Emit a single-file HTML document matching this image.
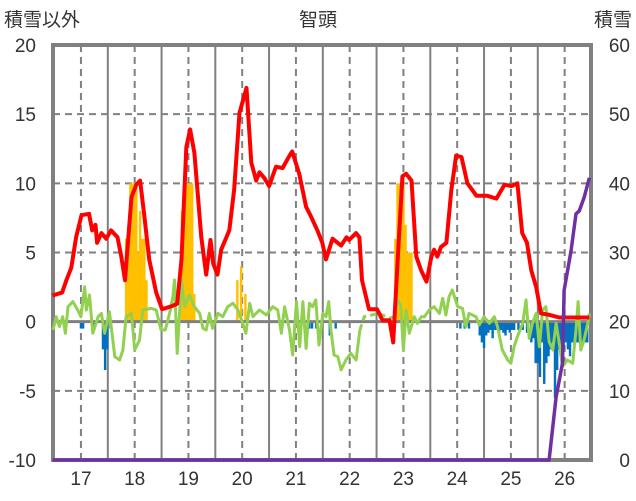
<!DOCTYPE html>
<html><head><meta charset="utf-8"><style>
html,body{margin:0;padding:0;background:#fff;}
svg{display:block;font-family:"Liberation Sans","Noto Sans CJK JP",sans-serif;}
</style></head><body>
<svg id="chart" width="636" height="501" viewBox="0 0 636 501" xmlns="http://www.w3.org/2000/svg">
<text x="4" y="26" font-size="19" fill="#333">積雪以外</text>
<text x="318" y="26" font-size="19" fill="#333" text-anchor="middle">智頭</text>
<text x="632" y="26" font-size="19" fill="#333" text-anchor="end">積雪</text>
<g id="grid"></g>
<g id="marks"></g>
<g id="axes"></g>
</svg>
<script>
const yearTicks=[17,18,19,20,21,22,23,24,25,26];
const leftTicks=[-10,-5,0,5,10,15,20];
const rightTicks=[0,10,20,30,40,50,60];
const redSeries=[[16.47,1.9],[16.65,2.1],[16.73,3.0],[16.82,3.9],[16.91,6.1],[17.01,7.7],[17.15,7.8],[17.21,6.6],[17.27,7.0],[17.30,5.7],[17.38,6.4],[17.47,6.0],[17.56,6.6],[17.68,6.1],[17.75,4.7],[17.82,3.0],[17.94,9.0],[18.03,9.9],[18.10,10.2],[18.18,7.6],[18.27,4.5],[18.40,2.1],[18.51,0.9],[18.68,1.1],[18.79,1.3],[18.87,4.5],[18.96,12.6],[19.03,13.9],[19.11,12.2],[19.24,6.1],[19.33,3.4],[19.41,5.9],[19.46,4.2],[19.54,3.4],[19.61,5.2],[19.76,6.6],[19.85,9.5],[19.95,15.1],[20.08,16.9],[20.17,11.5],[20.26,10.2],[20.32,10.8],[20.41,10.4],[20.50,9.8],[20.63,11.2],[20.75,11.1],[20.88,12.0],[20.93,12.3],[21.06,10.7],[21.19,8.3],[21.28,7.6],[21.40,6.6],[21.49,5.7],[21.56,4.5],[21.68,6.0],[21.84,5.5],[21.94,6.1],[21.99,5.9],[22.12,6.4],[22.18,6.1],[22.23,3.0],[22.36,0.9],[22.51,0.9],[22.61,0.1],[22.74,0.1],[22.81,-1.5],[22.89,4.2],[22.98,10.5],[23.05,10.7],[23.15,10.2],[23.24,4.7],[23.33,3.7],[23.43,2.9],[23.52,4.7],[23.57,5.2],[23.63,4.7],[23.70,5.4],[23.80,5.7],[23.89,9.5],[23.98,12.0],[24.08,11.9],[24.19,10.0],[24.36,9.1],[24.56,9.1],[24.73,8.9],[24.88,9.9],[25.01,9.8],[25.12,10.0],[25.21,6.4],[25.30,5.7],[25.38,3.7],[25.47,2.5],[25.56,0.6],[25.71,0.5],[25.90,0.3],[26.21,0.3],[26.46,0.3]];
const greenSeriesA=[[16.48,-0.6],[16.54,0.36],[16.60,-0.36],[16.66,0.36],[16.71,-0.84],[16.76,1.08],[16.85,1.45],[16.94,0.84],[17.00,0.36],[17.07,2.53],[17.10,0.84],[17.16,1.93],[17.22,-0.84],[17.32,0.36],[17.38,0.6],[17.44,-0.84],[17.53,0.72],[17.63,-2.53],[17.72,-2.77],[17.78,-2.05],[17.84,0.36],[17.94,0.6],[18.00,-2.05],[18.09,-1.33],[18.15,0.84],[18.31,0.96],[18.40,0.84],[18.49,-0.6],[18.57,-0.6],[18.65,0.6],[18.71,1.81],[18.74,3.01],[18.79,-2.29],[18.87,3.01],[18.93,1.08],[19.02,1.93],[19.11,1.08],[19.21,0.6],[19.27,-0.48],[19.33,-0.6],[19.39,0.6],[19.45,-0.48],[19.55,0.6],[19.64,0.36],[19.73,1.08],[19.83,1.33],[19.92,0.84],[20.01,-0.12],[20.07,-0.84],[20.14,1.33],[20.20,0.36],[20.32,0.84],[20.45,0.48],[20.57,1.08],[20.66,0.84],[20.73,-0.84],[20.79,1.08],[20.88,-0.6],[20.94,-2.41],[21.01,1.45],[21.07,-1.81],[21.13,1.45],[21.19,-1.93],[21.25,1.33],[21.31,1.08],[21.37,1.57],[21.43,-1.69],[21.50,0.6],[21.56,0.36],[21.61,1.45],[21.65,-0.6],[21.71,-2.41],[21.78,-2.53],[21.84,-3.49],[21.93,-2.77],[22.02,-2.29],[22.12,-2.77],[22.19,-0.6]];
const greenSeriesB=[[22.74,0.24],[22.83,0.36],[22.89,1.57],[22.95,1.2],[23.00,-2.05],[23.05,0.84],[23.11,-0.84],[23.20,0.36],[23.26,-0.12],[23.33,0.36],[23.39,0.36],[23.48,0.84],[23.57,1.08],[23.67,0.6],[23.73,1.69],[23.79,0.48],[23.85,1.81],[23.91,2.29],[24.01,1.08],[24.10,0.96],[24.16,-0.36],[24.22,0.6],[24.35,0.36],[24.41,-0.24],[24.50,0.36],[24.60,-0.12],[24.69,0.36],[24.75,-0.36],[24.84,-2.05],[24.94,-2.77],[25.00,-3.01],[25.06,-1.81],[25.12,-1.08],[25.22,-0.12],[25.28,1.57],[25.34,-1.2],[25.40,-0.12],[25.47,0.6],[25.53,-1.81],[25.59,0.84],[25.65,1.08],[25.71,-1.45],[25.78,-2.05],[25.84,-0.12],[25.90,-1.57],[25.96,-3.25],[26.05,-2.77],[26.15,-3.01],[26.21,-0.6],[26.25,1.45],[26.30,-2.05],[26.36,-1.33],[26.43,-0.12],[26.46,0.6]];
const greenGap=[[22.19,-0.6],[22.27,0.36],[22.55,0.6],[22.74,0.24]];
const purpleSeries=[[16.47,0],[25.71,0],[25.84,9.1],[25.96,14],[25.99,24.5],[26.12,30.3],[26.21,35.6],[26.27,36],[26.36,37.9],[26.46,40.8]];
const orangeBars=[[17.84,6],[17.88,6],[17.92,10],[17.96,10],[17.99,10],[18.03,10],[18.07,5],[18.10,8],[18.14,6],[18.18,6],[18.22,3],[18.88,8],[18.92,8],[18.96,10],[18.99,10],[19.03,10],[19.07,10],[19.11,2],[19.91,3],[19.98,4],[20.06,2],[22.85,6],[22.89,10],[22.92,10],[22.96,10],[23.00,10],[23.04,7],[23.08,5],[23.11,5],[23.15,5]];
const blueBars=[[17.00,-0.5],[17.04,-0.5],[17.25,-0.5],[17.41,-2],[17.45,-3.5],[17.49,-2],[17.55,-0.5],[21.25,-0.5],[21.30,-0.5],[21.38,-0.5],[21.63,-1.0],[21.74,-0.5],[24.06,-0.5],[24.14,-0.5],[24.22,-0.5],[24.42,-1.0],[24.46,-1.5],[24.50,-1.9],[24.54,-1.0],[24.58,-0.8],[24.62,-0.6],[24.66,-1.2],[24.70,-0.6],[24.74,-0.6],[24.78,-0.8],[24.82,-0.6],[24.86,-0.8],[24.90,-1.0],[24.94,-0.6],[24.98,-0.8],[25.02,-0.6],[25.06,-0.6],[25.14,-0.6],[25.22,-0.6],[25.30,-0.8],[25.38,-1.5],[25.42,-1.2],[25.46,-3.0],[25.50,-3.0],[25.54,-4.0],[25.58,-1.5],[25.62,-4.5],[25.66,-3.0],[25.70,-2.5],[25.74,-2.0],[25.78,-1.5],[25.82,-5.5],[25.86,-3.5],[25.90,-2.0],[25.94,-2.5],[25.98,-2.0],[26.02,-1.5],[26.06,-2.0],[26.10,-2.5],[26.14,-1.5],[26.18,-2.0],[26.22,-1.5],[26.26,-1.5],[26.30,-1.5],[26.34,-1.5],[26.38,-1.5],[26.42,-1.5]];

const PL=53,PR=591,PT=45,PB=460;
const T0=16.48,T1=26.49;
function xs(t){return PL+(t-T0)/(T1-T0)*(PR-PL);}
function yl(v){return PB-(v+10)/30*(PB-PT);}
function yr(v){return PB-v/60*(PB-PT);}
const NS="http://www.w3.org/2000/svg";
function mk(tag,parent,attrs){const e=document.createElementNS(NS,tag);for(const k in attrs)e.setAttribute(k,attrs[k]);parent.appendChild(e);return e;}
const grid=document.getElementById('grid'),marks=document.getElementById('marks'),axes=document.getElementById('axes');
leftTicks.forEach(v=>{if(v===-10||v===20||v===0)return;
 const l=mk('line',grid,{x1:PL,x2:PR,y1:yl(v),y2:yl(v),stroke:'#808080','stroke-width':2,'stroke-dasharray':'7,5'});
 
 });
yearTicks.forEach(y=>{
 const d=mk('line',grid,{x1:xs(y),x2:xs(y),y1:PT,y2:PB,stroke:'#808080','stroke-width':2,'stroke-dasharray':'7,5'});
 
 
 const s=mk('line',grid,{x1:xs(y+0.5),x2:xs(y+0.5),y1:PT,y2:PB,stroke:'#808080','stroke-width':2});
 
 });
const fr=mk('rect',grid,{x:PL,y:PT,width:PR-PL,height:PB-PT,fill:'none',stroke:'#808080','stroke-width':4});


const bw=xs(0.045)-xs(0);
orangeBars.forEach(([t,v])=>{const r=mk('rect',marks,{x:xs(t)-bw/2,y:yl(v),width:bw,height:yl(0)-yl(v),fill:'#ffc000'});
 
 });
blueBars.forEach(([t,v])=>{const r=mk('rect',marks,{x:xs(t)-bw/2,y:yl(0),width:bw,height:yl(v)-yl(0),fill:'#0070c0'});
 
 });
const z=mk('line',marks,{x1:PL,x2:PR,y1:yl(0),y2:yl(0),stroke:'#808080','stroke-width':3});


function pts(arr,f){return arr.map(([t,v])=>xs(t).toFixed(1)+','+f(v).toFixed(1)).join(' ');}
const g1=mk('polyline',marks,{points:pts(greenSeriesA,yl),fill:'none',stroke:'#92d050','stroke-width':3,'stroke-linejoin':'round'});


const gg=mk('polyline',marks,{points:pts(greenGap,yl),fill:'none',stroke:'#92d050','stroke-width':3,'stroke-dasharray':'6,4'});


const g2=mk('polyline',marks,{points:pts(greenSeriesB,yl),fill:'none',stroke:'#92d050','stroke-width':3,'stroke-linejoin':'round'});


const rl=mk('polyline',marks,{points:pts(redSeries,yl),fill:'none',stroke:'#ff0000','stroke-width':4,'stroke-linejoin':'round'});


const pl=mk('polyline',marks,{points:pts(purpleSeries,yr),fill:'none',stroke:'#7030a0','stroke-width':3.5,'stroke-linejoin':'round'});


leftTicks.forEach(v=>{const t=mk('text',axes,{x:36,y:yl(v)+7,'font-size':19,fill:'#333','text-anchor':'end'});t.textContent=v;
 
 });
rightTicks.forEach(v=>{const t=mk('text',axes,{x:630,y:yr(v)+7,'font-size':19,fill:'#333','text-anchor':'end'});t.textContent=v;
 
 });
yearTicks.forEach(y=>{const t=mk('text',axes,{x:xs(y),y:485,'font-size':19,fill:'#333','text-anchor':'middle'});t.textContent=y;
 
 });
</script>
</body></html>
